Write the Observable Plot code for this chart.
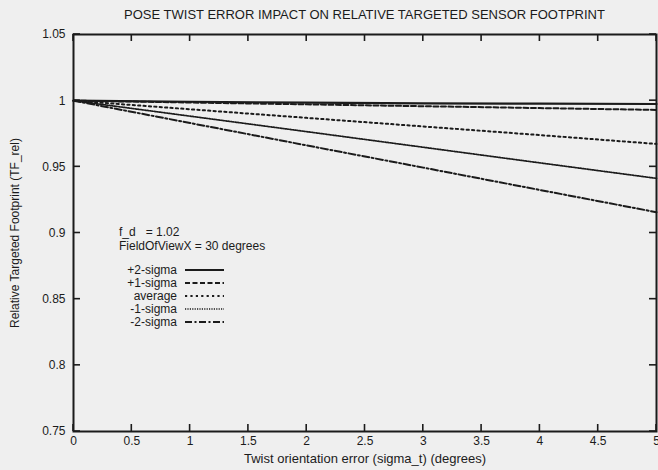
<!DOCTYPE html>
<html><head><meta charset="utf-8">
<script src="https://cdn.jsdelivr.net/npm/d3@7"></script>
<script src="https://cdn.jsdelivr.net/npm/@observablehq/plot@0.6"></script>
<style>
html,body{margin:0;padding:0;background:#efefef;}
#chart{width:658px;height:470px;overflow:hidden;position:relative;}
svg text{white-space:pre;}
g[aria-label="x-axis label"] text{font-size:13px;}
</style></head><body><div id="chart"></div>
<script>
// ---- data ----
const twist = [0, 1, 2, 3, 4, 5];
const plus2Sigma  = [1, 0.9992, 0.9985, 0.9980, 0.9977, 0.9975];
const plus1Sigma  = [1, 0.9986, 0.9972, 0.9958, 0.9944, 0.9930];
const averageVals = [1, 0.9935, 0.9870, 0.9805, 0.9740, 0.9673];
const minus1Sigma = [1, 0.9883, 0.9766, 0.9648, 0.9530, 0.9413];
const minus2Sigma = [1, 0.9831, 0.9662, 0.9494, 0.9325, 0.9157];
const seriesNames = ["+2-sigma", "+1-sigma", "average", "-1-sigma", "-2-sigma"];
const xTicks = [0, 0.5, 1, 1.5, 2, 2.5, 3, 3.5, 4, 4.5, 5];
const yTicks = [0.75, 0.8, 0.85, 0.9, 0.95, 1, 1.05];
const titleText = "POSE TWIST ERROR IMPACT ON RELATIVE TARGETED SENSOR FOOTPRINT";
const xLabel = "Twist orientation error (sigma_t) (degrees)";
const yLabel = "Relative Targeted Footprint (TF_rel)";
const noteLines = ["f_d   = 1.02", "FieldOfViewX = 30 degrees"];

// ---- styles ----
const seriesValues = [plus2Sigma, plus1Sigma, averageVals, minus1Sigma, minus2Sigma];
const dash = {"+2-sigma": null, "+1-sigma": "5,2.5", "average": "2.2,3.2", "-1-sigma": "1.2,1.2", "-2-sigma": "7,2.5,2,2.5"};
const sw = {"+2-sigma": 2.2, "+1-sigma": 2, "average": 2, "-1-sigma": 1.7, "-2-sigma": 2};
const ink = "#1b1b1b";

const rows = seriesNames.flatMap((s, i) => twist.map((x, j) => ({series: s, x, y: seriesValues[i][j]})));
const fmt = d => String(+d.toFixed(2));

const W = 658, H = 470, mL = 73, mR = 2, mT = 34, mB = 39;

const chart = Plot.plot({
  width: W, height: H,
  marginLeft: mL, marginRight: mR, marginTop: mT, marginBottom: mB,
  style: {fontFamily: "'Liberation Sans', Arial, sans-serif", fontSize: "12px", background: "transparent", color: ink},
  x: {domain: [0, 5]},
  y: {domain: [0.75, 1.05]},
  marks: [
    ...seriesNames.map(s => Plot.line(rows.filter(d => d.series === s), {
      x: "x", y: "y", stroke: ink, strokeWidth: sw[s], strokeDasharray: dash[s]
    })),
    Plot.frame({stroke: ink, strokeWidth: 2}),
    Plot.axisX(xTicks, {tickSize: 0, tickPadding: 5, tickFormat: fmt, label: xLabel, labelAnchor: "center", labelArrow: "none", labelOffset: 31, fill: ink}),
    Plot.axisY(yTicks, {tickSize: 0, tickPadding: 8, tickFormat: fmt, label: yLabel, labelAnchor: "center", labelArrow: "none", labelOffset: 63, fill: ink})
  ]
});
document.getElementById("chart").appendChild(chart);

const svg = d3.select(chart);
const sx = chart.scale("x"), sy = chart.scale("y");
const tk = 7;
const g = svg.append("g").attr("stroke", ink).attr("stroke-width", 1.6);
xTicks.forEach(v => {
  const px = sx.apply(v);
  g.append("line").attr("x1", px).attr("x2", px).attr("y1", mT).attr("y2", mT + tk);
  g.append("line").attr("x1", px).attr("x2", px).attr("y1", H - mB).attr("y2", H - mB - tk);
});
yTicks.forEach(v => {
  const py = sy.apply(v);
  g.append("line").attr("x1", mL).attr("x2", mL + tk).attr("y1", py).attr("y2", py);
  g.append("line").attr("x1", W - mR).attr("x2", W - mR - tk).attr("y1", py).attr("y2", py);
});

// title
svg.append("text").attr("x", (mL + W - mR) / 2).attr("y", 19)
  .attr("text-anchor", "middle").attr("font-size", 13).attr("fill", ink).text(titleText);

// notes
noteLines.forEach((t, i) => {
  svg.append("text").attr("x", 119).attr("y", 232 + i * 13.5).attr("dy", "0.35em")
    .attr("text-anchor", "start").attr("font-size", 12).attr("fill", ink)
    .attr("xml:space", "preserve").text(t);
});

// legend
const lg = svg.append("g");
seriesNames.forEach((s, i) => {
  const y = 270 + i * 13;
  lg.append("text").attr("x", 177).attr("y", y).attr("dy", "0.35em").attr("text-anchor", "end")
    .attr("font-size", 12).attr("fill", ink).text(s);
  lg.append("line").attr("x1", 185).attr("x2", 224).attr("y1", y).attr("y2", y)
    .attr("stroke", ink).attr("stroke-width", sw[s]).attr("stroke-dasharray", dash[s]);
});
</script></body></html>
